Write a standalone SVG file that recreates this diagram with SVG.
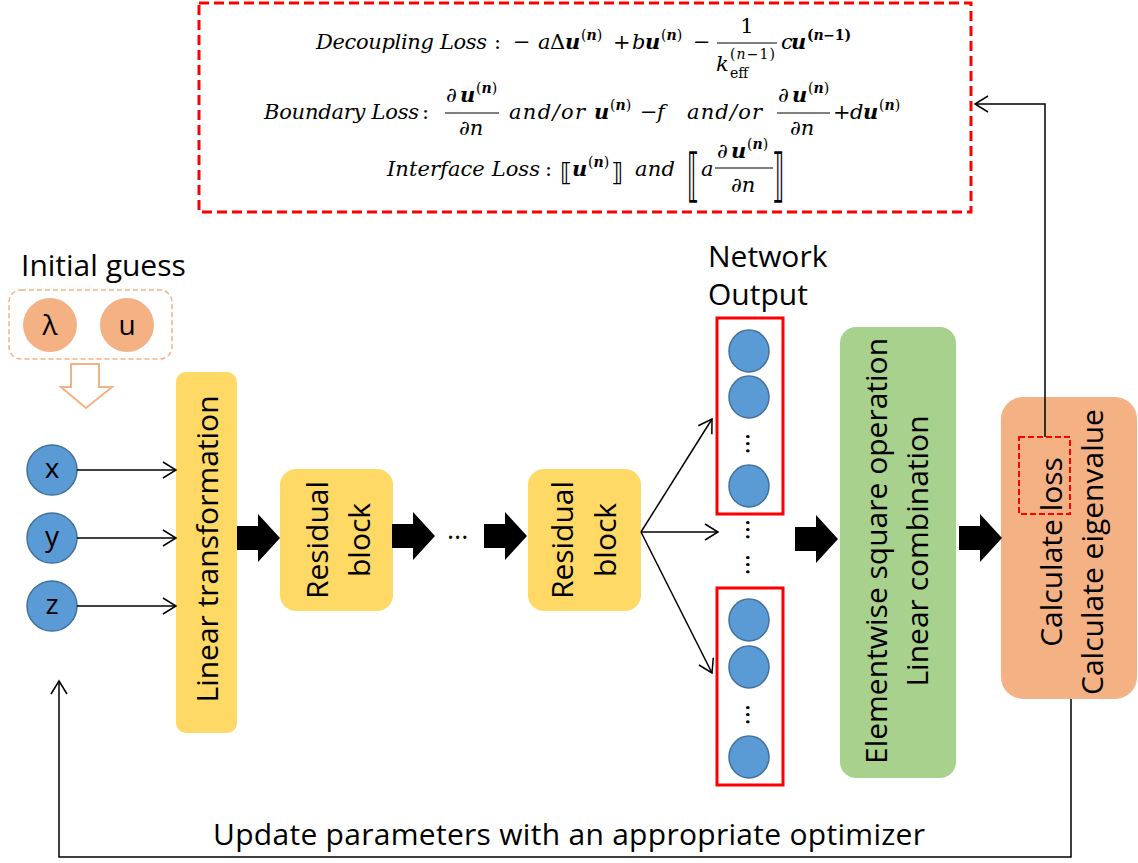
<svg xmlns="http://www.w3.org/2000/svg" width="1138" height="863" viewBox="0 0 1138 863">
<style>
.t{font-family:"Open Sans","Noto Sans",sans-serif;fill:#000}
.t30{font-size:30px}
.lbl{font-size:28px;text-anchor:middle}
.m{font-family:"DejaVu Serif","Liberation Serif",serif;font-size:21px;fill:#000}
.mi{font-style:italic}
.mb{font-style:italic;font-weight:bold}
.sup{font-family:"DejaVu Serif","Liberation Serif",serif;font-size:14px;fill:#000}
.br{font-family:"DejaVu Sans","Noto Sans",sans-serif;fill:#000}
.ln{stroke:#000;stroke-width:1.5;fill:none}
.frac{stroke:#000;stroke-width:1.2}
.blue{fill:#5B9BD5;stroke:#41719C;stroke-width:1.5}
.peach{fill:#F4B183}
.dots{font-family:"Open Sans",sans-serif;font-size:27px;fill:#000}
</style>
<defs>
<marker id="open" viewBox="-15 -10 17 20" markerWidth="17" markerHeight="20" refX="0" refY="0" orient="auto" markerUnits="userSpaceOnUse">
<path d="M-13,-8 L0,0 L-13,8" fill="none" stroke="#000" stroke-width="1.5"/>
</marker>
<polygon id="fat" points="0,-12 21,-12 21,-24 43,0 21,24 21,12 0,12" fill="#000"/>
</defs>

<g id="loss-formulas">
<rect x="199" y="3" width="772" height="209" fill="#fff" stroke="#FF0000" stroke-width="3" stroke-dasharray="10,5"/>
<!-- line 1 -->
<text class="m mi" x="316" y="49" textLength="171" lengthAdjust="spacing">Decoupling Loss</text>
<text class="m" x="494" y="49">:</text>
<text class="m" x="513" y="49">−</text>
<text class="m mi" x="538" y="49">a</text>
<text class="m" x="550" y="49">Δ</text>
<text class="m mb" x="565" y="49">u</text>
<text class="sup" x="581" y="40">(<tspan font-weight="bold" font-style="italic">n</tspan>)</text>
<text class="m" x="613" y="49">+</text>
<text class="m mi" x="632" y="49">b</text>
<text class="m mb" x="645" y="49">u</text>
<text class="sup" x="661" y="40">(<tspan font-weight="bold" font-style="italic">n</tspan>)</text>
<text class="m" x="693" y="49">−</text>
<text class="m" x="747" y="33" text-anchor="middle">1</text>
<line class="frac" x1="717" y1="43" x2="777" y2="43"/>
<text class="m mi" x="716" y="71">k</text>
<text class="sup" x="730" y="59" textLength="45" lengthAdjust="spacing">(<tspan font-style="italic">n</tspan>−1)</text>
<text class="sup" x="730" y="78">eff</text>
<text class="m mi" x="781" y="49">c</text>
<text class="m mb" x="791" y="49">u</text>
<text class="sup" x="807" y="40" font-weight="bold" textLength="44" lengthAdjust="spacing">(<tspan font-style="italic">n</tspan>−1)</text>
<!-- line 2 -->
<text class="m mi" x="264" y="119" textLength="155" lengthAdjust="spacing">Boundary Loss</text>
<text class="m" x="422" y="119">:</text>
<text class="m" x="446" y="102">∂</text>
<text class="m mb" x="460" y="102">u</text>
<text class="sup" x="476" y="93">(<tspan font-weight="bold" font-style="italic">n</tspan>)</text>
<line class="frac" x1="445" y1="113" x2="499" y2="113"/>
<text class="m" x="459" y="135">∂<tspan font-style="italic">n</tspan></text>
<text class="m mi" x="509" y="119" textLength="76" lengthAdjust="spacing">and/or</text>
<text class="m mb" x="594" y="119">u</text>
<text class="sup" x="610" y="110">(<tspan font-weight="bold" font-style="italic">n</tspan>)</text>
<text class="m" x="640" y="119">−</text>
<text class="m mi" x="657" y="119">f</text>
<text class="m mi" x="687" y="119" textLength="75" lengthAdjust="spacing">and/or</text>
<text class="m" x="778" y="102">∂</text>
<text class="m mb" x="792" y="102">u</text>
<text class="sup" x="808" y="93">(<tspan font-weight="bold" font-style="italic">n</tspan>)</text>
<line class="frac" x1="777" y1="113" x2="830" y2="113"/>
<text class="m" x="790" y="135">∂<tspan font-style="italic">n</tspan></text>
<text class="m" x="833" y="119">+</text>
<text class="m mi" x="850" y="119">d</text>
<text class="m mb" x="863" y="119">u</text>
<text class="sup" x="879" y="110">(<tspan font-weight="bold" font-style="italic">n</tspan>)</text>
<!-- line 3 -->
<text class="m mi" x="387" y="176" textLength="153" lengthAdjust="spacing">Interface Loss</text>
<text class="m" x="545" y="176">:</text>
<text class="br" x="560" y="181" font-size="25">⟦</text>
<text class="m mb" x="572" y="176">u</text>
<text class="sup" x="588" y="167">(<tspan font-weight="bold" font-style="italic">n</tspan>)</text>
<text class="br" x="611" y="181" font-size="25">⟧</text>
<text class="m mi" x="635" y="176" textLength="40" lengthAdjust="spacing">and</text>
<text class="br" font-size="25" transform="translate(687,195) scale(1,2.3)">⟦</text>
<text class="m mi" x="701" y="176">a</text>
<text class="m" x="717" y="158">∂</text>
<text class="m mb" x="731" y="158">u</text>
<text class="sup" x="747" y="149">(<tspan font-weight="bold" font-style="italic">n</tspan>)</text>
<line class="frac" x1="715" y1="168" x2="773" y2="168"/>
<text class="m" x="731" y="192">∂<tspan font-style="italic">n</tspan></text>
<text class="br" font-size="25" transform="translate(772,195) scale(1,2.3)">⟧</text>
</g>

<g id="initial-guess">
<text class="t t30" x="21" y="276">Initial guess</text>
<rect x="9" y="290" width="163" height="69" rx="12" fill="none" stroke="#F4B183" stroke-width="1.5" stroke-dasharray="5,3"/>
<circle class="peach" cx="50" cy="325" r="27"/>
<circle class="peach" cx="127" cy="325" r="27"/>
<text class="t lbl" x="50" y="335">λ</text>
<text class="t lbl" x="127" y="335">u</text>
<polygon points="71,364 99,364 99,387 112,387 86,408 61,387 71,387" fill="#fff" stroke="#F4B183" stroke-width="2"/>
</g>

<g id="inputs">
<circle class="blue" cx="52" cy="470" r="25"/>
<text class="t lbl" x="52" y="478">x</text>
<circle class="blue" cx="52" cy="538" r="25"/>
<text class="t lbl" x="52" y="546">y</text>
<circle class="blue" cx="52" cy="606" r="25"/>
<text class="t lbl" x="52" y="614">z</text>
</g>

<g id="linear">
<rect x="176" y="372" width="61" height="361" rx="10" fill="#FFD966"/>
<text class="t t30" text-anchor="middle" transform="translate(218,549) rotate(-90)">Linear transformation</text>
</g>

<g id="residual1">
<rect x="280" y="469" width="113" height="142" rx="16" fill="#FFD966"/>
<text class="t t30" text-anchor="middle" transform="translate(328,540) rotate(-90)">Residual</text>
<text class="t t30" text-anchor="middle" transform="translate(370,540) rotate(-90)">block</text>
</g>

<g id="residual2">
<rect x="528" y="469" width="113" height="142" rx="16" fill="#FFD966"/>
<text class="t t30" text-anchor="middle" transform="translate(573,540) rotate(-90)">Residual</text>
<text class="t t30" text-anchor="middle" transform="translate(616,540) rotate(-90)">block</text>
</g>

<g id="ellipsis">
<text class="dots" x="447" y="539">...</text>
</g>

<g id="network-output">
<text class="t t30" x="708" y="267">Network</text>
<text class="t t30" x="708" y="305">Output</text>
<rect x="717" y="318" width="66" height="196" fill="none" stroke="#FF0000" stroke-width="3"/>
<ellipse class="blue" cx="749" cy="351" rx="20" ry="21"/>
<ellipse class="blue" cx="749" cy="397" rx="20" ry="21"/>
<text class="dots" transform="translate(746,433) rotate(90)">...</text>
<ellipse class="blue" cx="749" cy="486" rx="20" ry="21"/>
<text class="dots" transform="translate(746,519) rotate(90)">...</text>
<text class="dots" transform="translate(746,554) rotate(90)">...</text>
<rect x="717" y="588" width="66" height="197" fill="none" stroke="#FF0000" stroke-width="3"/>
<ellipse class="blue" cx="749" cy="620" rx="20" ry="21"/>
<ellipse class="blue" cx="749" cy="667" rx="20" ry="21"/>
<text class="dots" transform="translate(746,704) rotate(90)">...</text>
<ellipse class="blue" cx="749" cy="757" rx="20" ry="21"/>
</g>

<g id="elementwise">
<rect x="840" y="327" width="116" height="451" rx="16" fill="#A9D18E"/>
<text class="t t30" text-anchor="middle" transform="translate(887,551) rotate(-90)">Elementwise square operation</text>
<text class="t t30" text-anchor="middle" transform="translate(928,551) rotate(-90)">Linear combination</text>
</g>

<g id="calculate">
<rect x="1001" y="397" width="136" height="302" rx="22" fill="#F4B183"/>
<text class="t t30" text-anchor="middle" transform="translate(1062,552) rotate(-90)">Calculate loss</text>
<text class="t t30" text-anchor="middle" transform="translate(1103,552) rotate(-90)">Calculate eigenvalue</text>
<rect x="1019" y="437" width="51" height="77" fill="none" stroke="#FF0000" stroke-width="2" stroke-dasharray="6,3"/>
</g>

<g id="connectors">
<line class="ln" x1="77" y1="470" x2="176" y2="470" marker-end="url(#open)"/>
<line class="ln" x1="77" y1="538" x2="176" y2="538" marker-end="url(#open)"/>
<line class="ln" x1="77" y1="606" x2="176" y2="606" marker-end="url(#open)"/>
<use href="#fat" x="237" y="538"/>
<use href="#fat" x="392" y="536"/>
<use href="#fat" x="484" y="536"/>
<use href="#fat" x="795" y="539"/>
<use href="#fat" x="959" y="538"/>
<line class="ln" x1="641" y1="532" x2="712" y2="419" marker-end="url(#open)"/>
<line class="ln" x1="641" y1="532" x2="718" y2="532" marker-end="url(#open)"/>
<line class="ln" x1="641" y1="532" x2="712" y2="673" marker-end="url(#open)"/>
<polyline class="ln" points="1045,437 1045,104 975,104" marker-end="url(#open)"/>
<polyline class="ln" points="1071,699 1071,857 59,857 59,681" marker-end="url(#open)"/>
</g>

<g id="update-label">
<text class="t t30" x="213" y="845" textLength="712" lengthAdjust="spacing">Update parameters with an appropriate optimizer</text>
</g>
</svg>
